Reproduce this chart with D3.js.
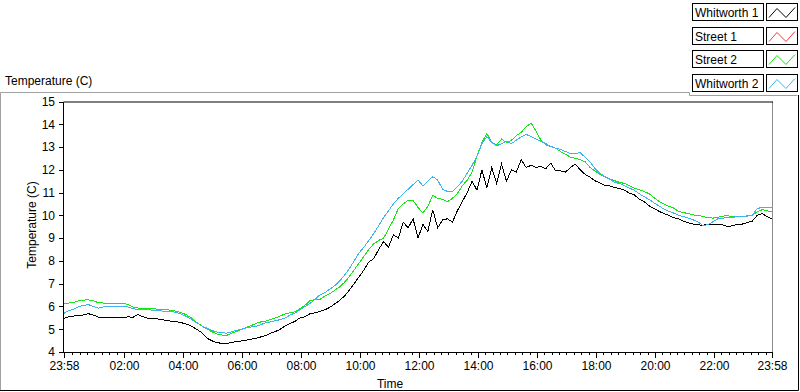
<!DOCTYPE html>
<html>
<head>
<meta charset="utf-8">
<script src="https://cdn.jsdelivr.net/npm/d3@7"></script>
<style>
  body { margin: 0; background: #fff; }
  svg text { font-family: "Liberation Sans", Arial, sans-serif; font-size: 12px; fill: #000; }
</style>
</head>
<body>
<div id="chart"></div>
<script>
// samples every 10 minutes, starting 23:58, over 24 hours
var startTime = "23:58";
var sampleMinutes = 10;

var whitworth1 = [
  5.48, 5.55, 5.58, 5.60, 5.63, 5.68, 5.62, 5.53, 5.50, 5.52,
  5.50, 5.52, 5.50, 5.55, 5.52, 5.65, 5.55, 5.48, 5.45, 5.45,
  5.42, 5.38, 5.34, 5.33, 5.28, 5.22, 5.12, 5.00, 4.85, 4.62,
  4.50, 4.42, 4.38, 4.36, 4.42, 4.45, 4.48, 4.52, 4.56, 4.60,
  4.66, 4.72, 4.82, 4.90, 5.00, 5.15, 5.25, 5.35, 5.50, 5.55,
  5.68, 5.72, 5.78, 5.85, 5.95, 6.10, 6.25, 6.45, 6.70, 7.00,
  7.30, 7.60, 7.95, 8.10, 8.50, 8.85, 8.60, 9.15, 9.00, 9.70,
  9.45, 9.85, 9.00, 9.60, 9.30, 10.25, 9.45, 9.80, 9.85, 9.70,
  10.20, 10.60, 11.00, 11.50, 11.10, 12.00, 11.20, 12.10, 11.40, 12.25,
  11.50, 12.00, 11.90, 12.45, 12.10, 12.20, 12.10, 12.15, 12.05, 12.30,
  11.95, 11.95, 11.90, 12.10, 12.25, 12.00, 11.80, 11.68, 11.52, 11.42,
  11.32, 11.30, 11.22, 11.18, 11.10, 10.98, 10.90, 10.72, 10.60, 10.42,
  10.30, 10.18, 10.08, 10.00, 9.90, 9.85, 9.75, 9.67, 9.62, 9.58,
  9.57, 9.60, 9.62, 9.60, 9.58, 9.50, 9.55, 9.60, 9.62, 9.68,
  9.75, 10.00, 10.08, 9.95, 9.85
];
var street1 = [];
var street2 = [
  6.12, 6.15, 6.18, 6.25, 6.28, 6.29, 6.25, 6.16, 6.15, 6.14,
  6.13, 6.13, 6.14, 6.08, 5.98, 5.93, 5.92, 5.90, 5.92, 5.88,
  5.88, 5.86, 5.82, 5.78, 5.72, 5.62, 5.48, 5.30, 5.15, 5.02,
  4.90, 4.80, 4.75, 4.72, 4.82, 4.90, 4.98, 5.08, 5.15, 5.25,
  5.32, 5.35, 5.42, 5.50, 5.58, 5.68, 5.72, 5.77, 5.90, 6.05,
  6.25, 6.30, 6.30, 6.45, 6.55, 6.70, 6.85, 7.05, 7.30, 7.60,
  7.90, 8.20, 8.50, 8.75, 8.90, 9.00, 9.40, 9.80, 10.30, 10.50,
  10.67, 10.65, 10.35, 10.10, 10.40, 10.88, 10.75, 10.70, 10.60, 10.75,
  10.95, 11.30, 11.54, 11.90, 12.60, 13.20, 13.60, 13.20, 13.10, 13.35,
  13.20, 13.30, 13.50, 13.65, 13.90, 14.05, 13.70, 13.30, 13.10, 13.02,
  12.95, 12.80, 12.68, 12.56, 12.50, 12.45, 12.35, 12.10, 11.95, 11.80,
  11.70, 11.60, 11.52, 11.45, 11.40, 11.30, 11.20, 11.12, 11.05, 10.95,
  10.78, 10.62, 10.50, 10.40, 10.32, 10.18, 10.12, 10.08, 10.02, 10.00,
  9.95, 9.90, 9.88, 9.92, 9.97, 9.98, 9.95, 9.94, 9.95, 9.98,
  10.02, 10.15, 10.25, 10.20, 10.15
];
var whitworth2 = [
  5.70, 5.82, 5.88, 6.00, 6.05, 6.08, 6.00, 5.92, 5.98, 6.00,
  6.00, 6.00, 6.00, 5.98, 5.90, 5.87, 5.86, 5.85, 5.84, 5.82,
  5.80, 5.80, 5.78, 5.72, 5.65, 5.55, 5.42, 5.28, 5.15, 5.05,
  4.95, 4.88, 4.85, 4.83, 4.88, 4.95, 5.00, 5.05, 5.10, 5.12,
  5.20, 5.28, 5.32, 5.38, 5.42, 5.50, 5.62, 5.72, 5.85, 6.00,
  6.12, 6.30, 6.50, 6.60, 6.75, 6.90, 7.10, 7.35, 7.65, 8.00,
  8.35, 8.60, 8.90, 9.20, 9.55, 9.90, 10.20, 10.50, 10.75, 10.95,
  11.15, 11.35, 11.55, 11.30, 11.50, 11.70, 11.55, 11.15, 11.05, 11.05,
  11.25, 11.50, 11.85, 12.20, 12.60, 13.15, 13.45, 13.20, 13.05, 13.15,
  13.25, 13.15, 13.30, 13.45, 13.55, 13.47, 13.35, 13.25, 13.15, 13.03,
  12.95, 12.90, 12.80, 12.72, 12.72, 12.75, 12.55, 12.35, 12.05, 11.85,
  11.70, 11.58, 11.45, 11.40, 11.30, 11.20, 11.10, 10.95, 10.82, 10.70,
  10.55, 10.42, 10.28, 10.18, 10.10, 10.00, 9.95, 9.88, 9.80, 9.70,
  9.55, 9.60, 9.72, 9.85, 9.88, 9.90, 9.92, 9.94, 9.95, 9.97,
  10.00, 10.30, 10.35, 10.35, 10.34
];

var seriesNames = ["Whitworth 1", "Street 1", "Street 2", "Whitworth 2"];
var seriesColors = ["#000000", "#f23c3c", "#14e614", "#3cb4f0"];
var timeTickLabels = ["23:58", "02:00", "04:00", "06:00", "08:00", "10:00", "12:00",
                      "14:00", "16:00", "18:00", "20:00", "22:00", "23:58"];
var tempTicks = [4, 5, 6, 7, 8, 9, 10, 11, 12, 13, 14, 15];

function createChart() {
    var w = 800;
    var h = 392;
    var left = 64, right = 772, top = 101.5, bottom = 352;

    var svg = d3.select("#chart")
        .append("svg")
        .attr("width", w)
        .attr("height", h);

    var hm = startTime.split(":");
    var day0 = new Date(2000, 0, 1, +hm[0], +hm[1]);
    var day1 = d3.timeDay.offset(day0, 1);

    var x = d3.scaleTime().domain([day0, day1]).range([left, right]);
    var y = d3.scaleLinear().domain([4, 15]).range([bottom, top]);

    // outer panel frame
    svg.append("path")
        .attr("d", "M0.5,391V92.5H689.5V95.5H797.5")
        .attr("fill", "none").attr("stroke", "#a0a0a0");
    svg.append("path")
        .attr("d", "M0,390.5H798.5V95")
        .attr("fill", "none").attr("stroke", "#000");

    svg.append("text").attr("x", 5).attr("y", 85).text("Temperature (C)");

    // ticks
    var majorDates = timeTickLabels.map(function(t, i) {
        var p = t.split(":");
        return i === 0 ? day0 : new Date(2000, 0, 2, +p[0], +p[1]);
    });
    var minorDates = d3.timeMinute.every(15).range(day0, day1).filter(function(d) {
        return d.getMinutes() % 60 !== 0 || d.getHours() % 2 !== 0;
    });

    svg.append("g")
        .attr("transform", "translate(0," + bottom + ")")
        .call(d3.axisBottom(x).tickValues(minorDates).tickSize(3).tickFormat(""))
        .call(function(g) { g.select(".domain").remove(); });

    var xAxis = svg.append("g")
        .attr("transform", "translate(0," + bottom + ")")
        .call(d3.axisBottom(x).tickValues(majorDates).tickSize(6).tickPadding(3)
            .tickFormat(d3.timeFormat("%H:%M")));
    xAxis.select(".domain").remove();
    xAxis.selectAll("text").style("font-size", "12px").style("font-family", null);

    var yAxis = svg.append("g")
        .attr("transform", "translate(" + left + ",0)")
        .call(d3.axisLeft(y).tickValues(tempTicks).tickSize(5).tickPadding(4));
    yAxis.select(".domain").remove();
    yAxis.selectAll("text").style("font-size", "12px").style("font-family", null);

    svg.selectAll("g.tick line").attr("shape-rendering", "crispEdges");

    // plot frame
    svg.append("line").attr("x1", right + 0.5).attr("x2", right + 0.5)
        .attr("y1", top).attr("y2", bottom).attr("stroke", "#8c8c8c");
    svg.append("path")
        .attr("d", "M" + (right + 1) + "," + (top + 0.5) + "H" + (left - 0.5) +
                   "V" + (bottom + 0.5) + "H" + (right + 1))
        .attr("fill", "none").attr("stroke", "#000");

    svg.append("text")
        .attr("x", 390).attr("y", 388)
        .attr("text-anchor", "middle")
        .text("Time");
    svg.append("text")
        .attr("transform", "translate(36,225) rotate(-90)")
        .attr("text-anchor", "middle")
        .text("Temperature (C)");

    svg.append("clipPath").attr("id", "plot-clip")
        .append("rect")
        .attr("x", left).attr("y", top).attr("width", right - left).attr("height", bottom - top);

    var line = d3.line()
        .x(function(d, i) { return x(d3.timeMinute.offset(day0, i * sampleMinutes)); })
        .y(function(d) { return y(d); });

    var allSeries = [whitworth1, street1, street2, whitworth2];
    svg.append("g")
        .attr("clip-path", "url(#plot-clip)")
        .selectAll("path")
        .data(allSeries)
        .enter()
        .append("path")
        .attr("fill", "none")
        .attr("stroke", function(d, i) { return seriesColors[i]; })
        .attr("stroke-width", 1)
        .attr("shape-rendering", "crispEdges")
        .attr("d", function(d) { return d.length ? line(d) : null; });

    // legend
    var rowH = 23.7;
    var legend = svg.selectAll("g.legend")
        .data(seriesNames)
        .enter()
        .append("g")
        .attr("class", "legend")
        .attr("transform", function(d, i) { return "translate(0," + Math.round(3 + i * rowH) + ".5)"; });

    legend.append("rect")
        .attr("x", 692.5).attr("y", 0).attr("width", 71).attr("height", 17)
        .attr("fill", "#fff").attr("stroke", "#000");
    legend.append("text")
        .attr("x", 695).attr("y", 13)
        .text(function(d) { return d; });
    legend.append("rect")
        .attr("x", 766.5).attr("y", 0).attr("width", 31).attr("height", 17)
        .attr("fill", "#fff").attr("stroke", "#000");
    legend.append("path")
        .attr("d", "M769,14L777,5L786,14L795,4")
        .attr("fill", "none")
        .attr("stroke", function(d, i) { return seriesColors[i]; });
}

createChart();
</script>
</body>
</html>
